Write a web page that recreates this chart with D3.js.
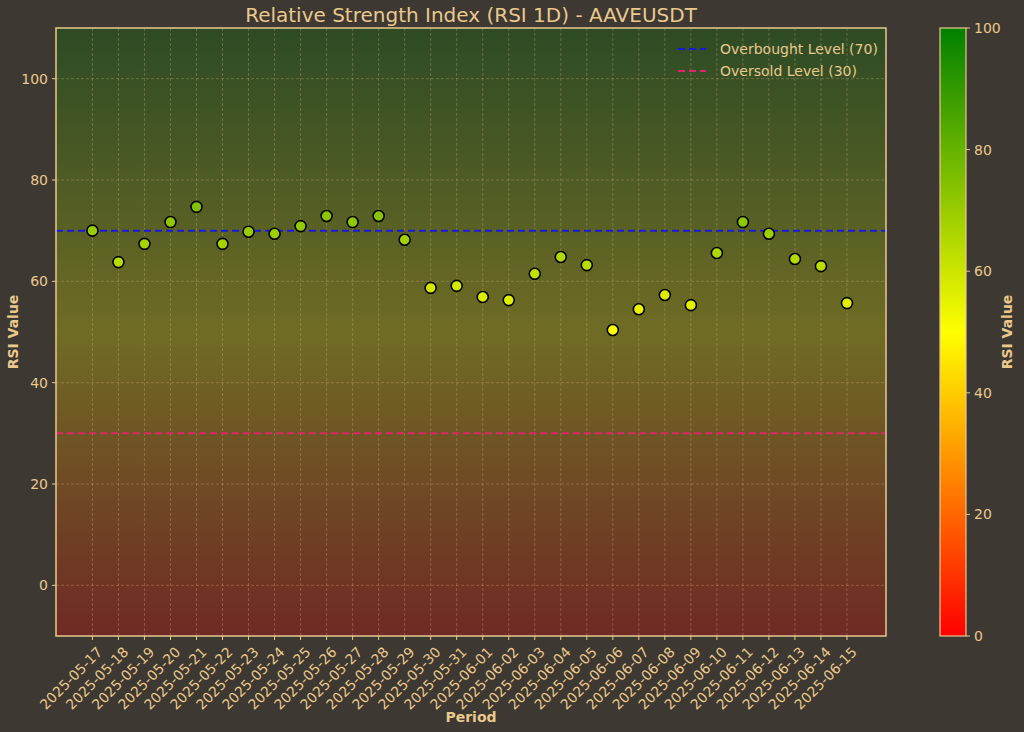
<!DOCTYPE html>
<html><head><meta charset="utf-8">
<script src="https://cdn.jsdelivr.net/npm/d3@7"></script>
<style>
body{margin:0;background:#3d3831;}
text{font-family:"DejaVu Sans",sans-serif;}
</style></head>
<body>
<svg id="chart" width="1024" height="732"></svg>
<script>
const dates = ["2025-05-17","2025-05-18","2025-05-19","2025-05-20","2025-05-21","2025-05-22","2025-05-23","2025-05-24","2025-05-25","2025-05-26","2025-05-27","2025-05-28","2025-05-29","2025-05-30","2025-05-31","2025-06-01","2025-06-02","2025-06-03","2025-06-04","2025-06-05","2025-06-06","2025-06-07","2025-06-08","2025-06-09","2025-06-10","2025-06-11","2025-06-12","2025-06-13","2025-06-14","2025-06-15"];
const rsi = [70.0,63.8,67.4,71.7,74.7,67.4,69.8,69.4,70.9,72.9,71.7,72.9,68.2,58.7,59.1,56.9,56.3,61.5,64.8,63.2,50.4,54.5,57.3,55.3,65.6,71.7,69.4,64.4,63.0,55.7];
const yTicks = [0,20,40,60,80,100];
const cbTicks = [0,20,40,60,80,100];
const overbought = 70, oversold = 30;

const ink = "#e9c98d";
const svg = d3.select("#chart");
const L = 56, R = 886, T = 28, B = 636;
const x = d3.scaleLinear().domain([-1.4, 30.5]).range([L, R]);
const y = d3.scaleLinear().domain([-10, 110]).range([B, T]);
const cmap = d3.scaleLinear().domain([0, 50, 100]).range(["#ff0000", "#ffff00", "#008000"]);

const defs = svg.append("defs");
const bg = defs.append("linearGradient").attr("id", "bg").attr("x1", 0).attr("y1", 1).attr("x2", 0).attr("y2", 0);
const cb = defs.append("linearGradient").attr("id", "cb").attr("x1", 0).attr("y1", 1).attr("x2", 0).attr("y2", 0);
d3.range(0, 101, 10).forEach(v => {
  bg.append("stop").attr("offset", v / 100).attr("stop-color", cmap(v));
  cb.append("stop").attr("offset", v / 100).attr("stop-color", cmap(v));
});

svg.append("rect").attr("x", L).attr("y", T).attr("width", R - L).attr("height", B - T).attr("fill", "#3d3831");
svg.append("rect").attr("x", L).attr("y", T).attr("width", R - L).attr("height", B - T).attr("fill", "url(#bg)").attr("opacity", 0.26);

// grid
const g = svg.append("g");
g.selectAll("line.gy").data(yTicks).join("line")
  .attr("x1", L).attr("x2", R).attr("y1", d => y(d)).attr("y2", d => y(d))
  .attr("stroke", ink).attr("stroke-opacity", 0.35).attr("stroke-dasharray", "3,2").attr("stroke-width", 0.8);
g.selectAll("line.gx").data(dates).join("line")
  .attr("x1", (d, i) => x(i)).attr("x2", (d, i) => x(i)).attr("y1", T).attr("y2", B)
  .attr("stroke", ink).attr("stroke-opacity", 0.35).attr("stroke-dasharray", "3,2").attr("stroke-width", 0.8);

// reference lines
svg.append("line").attr("x1", L).attr("x2", R).attr("y1", y(overbought)).attr("y2", y(overbought))
  .attr("stroke", "#1a1adf").attr("stroke-width", 2).attr("stroke-dasharray", "7,4");
svg.append("line").attr("x1", L).attr("x2", R).attr("y1", y(oversold)).attr("y2", y(oversold))
  .attr("stroke", "#e0246a").attr("stroke-width", 2).attr("stroke-dasharray", "7,4");

// points
svg.selectAll("circle.pt").data(rsi).join("circle")
  .attr("cx", (d, i) => x(i)).attr("cy", d => y(d)).attr("r", 5.5)
  .attr("fill", d => cmap(d)).attr("stroke", "#000").attr("stroke-width", 1.6);

svg.append("rect").attr("x", L).attr("y", T).attr("width", R - L).attr("height", B - T)
  .attr("fill", "none").attr("stroke", ink).attr("stroke-width", 1.5);

// y axis
svg.selectAll("text.yt").data(yTicks).join("text")
  .attr("x", L - 8).attr("y", d => y(d)).attr("dy", "0.35em").attr("text-anchor", "end")
  .attr("fill", ink).attr("font-size", 14).text(d => d);
svg.selectAll("line.ytk").data(yTicks).join("line")
  .attr("x1", L - 4).attr("x2", L).attr("y1", d => y(d)).attr("y2", d => y(d)).attr("stroke", ink);

// x axis
svg.selectAll("line.xtk").data(dates).join("line")
  .attr("x1", (d, i) => x(i)).attr("x2", (d, i) => x(i)).attr("y1", B).attr("y2", B + 4).attr("stroke", ink);
svg.selectAll("text.xt").data(dates).join("text")
  .attr("transform", (d, i) => `translate(${x(i) + 4},${B + 10}) rotate(-45)`)
  .attr("text-anchor", "end").attr("dy", "0.7em")
  .attr("fill", ink).attr("font-size", 14).text(d => d);

svg.append("text").attr("x", (L + R) / 2).attr("y", 722).attr("text-anchor", "middle")
  .attr("fill", ink).attr("font-size", 14).attr("font-weight", "bold").text("Period");
svg.append("text").attr("transform", `translate(18,${(T + B) / 2}) rotate(-90)`).attr("text-anchor", "middle")
  .attr("fill", ink).attr("font-size", 14).attr("font-weight", "bold").text("RSI Value");
svg.append("text").attr("x", (L + R) / 2).attr("y", 22).attr("text-anchor", "middle")
  .attr("fill", ink).attr("font-size", 20).text("Relative Strength Index (RSI 1D) - AAVEUSDT");

// legend
const leg = [["Overbought Level (70)", "#1a1adf"], ["Oversold Level (30)", "#e0246a"]];
const lg = svg.selectAll("g.leg").data(leg).join("g").attr("transform", (d, i) => `translate(678,${49 + i * 22})`);
lg.append("line").attr("x1", 0).attr("x2", 28).attr("stroke", d => d[1]).attr("stroke-width", 2).attr("stroke-dasharray", "7,4");
lg.append("text").attr("x", 42).attr("dy", "0.35em").attr("fill", ink).attr("font-size", 14).text(d => d[0]);

// colorbar
const cy = d3.scaleLinear().domain([0, 100]).range([B, T]);
svg.append("rect").attr("x", 940).attr("y", T).attr("width", 26).attr("height", B - T)
  .attr("fill", "url(#cb)").attr("stroke", ink).attr("stroke-width", 1.2);
svg.selectAll("text.cbt").data(cbTicks).join("text")
  .attr("x", 974).attr("y", d => cy(d)).attr("dy", "0.35em").attr("fill", ink).attr("font-size", 14).text(d => d);
svg.selectAll("line.cbk").data(cbTicks).join("line")
  .attr("x1", 966).attr("x2", 970).attr("y1", d => cy(d)).attr("y2", d => cy(d)).attr("stroke", ink);
svg.append("text").attr("transform", `translate(1012,${(T + B) / 2}) rotate(-90)`).attr("text-anchor", "middle")
  .attr("fill", ink).attr("font-size", 14).attr("font-weight", "bold").text("RSI Value");
</script>
</body></html>
